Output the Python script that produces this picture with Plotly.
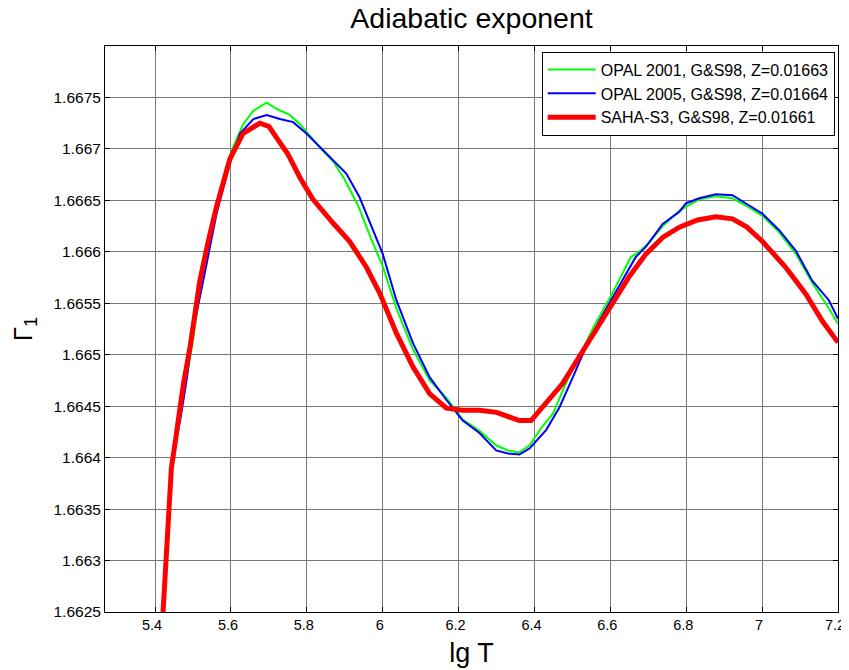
import plotly.graph_objects as go

# OPAL 2001
opal01_x = [5.421, 5.430, 5.438, 5.447, 5.458, 5.470, 5.485, 5.500, 5.520, 5.562, 5.590, 5.606, 5.632, 5.659,
            5.694, 5.720, 5.755, 5.782, 5.810, 5.840, 5.869, 5.900, 5.935, 5.970, 6.000, 6.036, 6.080, 6.124,
            6.168, 6.211, 6.255, 6.299, 6.330, 6.360, 6.387, 6.420, 6.449, 6.480, 6.520, 6.560, 6.600, 6.630,
            6.654, 6.676, 6.700, 6.738, 6.782, 6.834, 6.878, 6.922, 6.957, 7.001, 7.045, 7.089, 7.132, 7.176, 7.200]
opal01_y = [1.66252, 1.66310, 1.66360, 1.66400, 1.66428, 1.66455, 1.66482, 1.66515, 1.66565, 1.66642, 1.66685,
            1.66702, 1.66724, 1.66737, 1.66745, 1.66739, 1.66733, 1.66724, 1.66712, 1.66699, 1.66688, 1.66670,
            1.66645, 1.66612, 1.66586, 1.66545, 1.66505, 1.66475, 1.66458, 1.66437, 1.66426, 1.66412, 1.66407,
            1.66405, 1.66412, 1.66430, 1.66443, 1.66470, 1.66500, 1.66530, 1.66556, 1.66578, 1.66595, 1.66600,
            1.66608, 1.66625, 1.66640, 1.66651, 1.66654, 1.66652, 1.66645, 1.66635, 1.66619, 1.66598, 1.66570,
            1.66545, 1.66530]

# OPAL 2005
opal05_x = [5.420, 5.428, 5.435, 5.442, 5.453, 5.466, 5.483, 5.500, 5.527, 5.562, 5.597, 5.624, 5.659, 5.694,
            5.729, 5.764, 5.799, 5.834, 5.869, 5.904, 5.939, 5.974, 6.000, 6.036, 6.080, 6.124, 6.168, 6.211,
            6.255, 6.299, 6.330, 6.360, 6.387, 6.431, 6.466, 6.501, 6.536, 6.571, 6.606, 6.641, 6.667, 6.694,
            6.738, 6.782, 6.799, 6.834, 6.878, 6.922, 6.957, 7.001, 7.045, 7.089, 7.132, 7.176, 7.200]
opal05_y = [1.66255, 1.66300, 1.66346, 1.66385, 1.66414, 1.66436, 1.66475, 1.66524, 1.66572, 1.66637, 1.66686,
            1.66715, 1.66729, 1.66733, 1.66729, 1.66726, 1.66715, 1.66702, 1.66690, 1.66676, 1.66653, 1.66621,
            1.66598, 1.66553, 1.66511, 1.66478, 1.66456, 1.66436, 1.66424, 1.66407, 1.66404, 1.66403, 1.66409,
            1.66427, 1.66449, 1.66478, 1.66508, 1.66533, 1.66556, 1.66579, 1.66595, 1.66605, 1.66627, 1.66639,
            1.66647, 1.66652, 1.66656, 1.66655, 1.66647, 1.66637, 1.66621, 1.66601, 1.66572, 1.66553, 1.66535]

# SAHA-S3
saha_x = [5.421, 5.428, 5.436, 5.443, 5.455, 5.465, 5.474, 5.492, 5.518, 5.540, 5.562, 5.597, 5.632, 5.676,
          5.700, 5.720, 5.750, 5.782, 5.816, 5.869, 5.913, 5.957, 5.992, 6.036, 6.080, 6.124, 6.168, 6.210,
          6.255, 6.300, 6.330, 6.360, 6.391, 6.431, 6.474, 6.518, 6.562, 6.606, 6.650, 6.694, 6.738, 6.782,
          6.830, 6.878, 6.922, 6.960, 7.001, 7.062, 7.115, 7.160, 7.200]
saha_y = [1.66250, 1.66300, 1.66350, 1.66390, 1.66420, 1.66450, 1.66470, 1.66507, 1.66572, 1.66610, 1.66644,
          1.66690, 1.66715, 1.66725, 1.66722, 1.66711, 1.66695, 1.66672, 1.66651, 1.66628, 1.66610, 1.66585,
          1.66560, 1.66521, 1.66488, 1.66462, 1.66448, 1.66446, 1.66446, 1.66444, 1.66440, 1.66436, 1.66436,
          1.66453, 1.66472, 1.66498, 1.66524, 1.66550, 1.66576, 1.66598, 1.66614, 1.66624, 1.66631, 1.66634,
          1.66632, 1.66624, 1.66610, 1.66585, 1.66559, 1.66532, 1.66512]

x_ticks = [5.4, 5.6, 5.8, 6.0, 6.2, 6.4, 6.6, 6.8, 7.0, 7.2]
x_labels = ["5.4", "5.6", "5.8", "6", "6.2", "6.4", "6.6", "6.8", "7", "7.2"]
y_ticks = [1.6625, 1.663, 1.6635, 1.664, 1.6645, 1.665, 1.6655, 1.666, 1.6665, 1.667, 1.6675]
y_labels = ["1.6625", "1.663", "1.6635", "1.664", "1.6645", "1.665", "1.6655", "1.666", "1.6665", "1.667", "1.6675"]

FONT = "Liberation Sans, Arial, sans-serif"

# the page body adds an 8px margin, so the figure is sized/positioned to compensate
W, H = 841, 662

fig = go.Figure()
fig.add_trace(go.Scatter(x=opal01_x, y=opal01_y, mode="lines", name="OPAL 2001, G&S98, Z=0.01663",
                         line=dict(color="#00ff00", width=2)))
fig.add_trace(go.Scatter(x=opal05_x, y=opal05_y, mode="lines", name="OPAL 2005, G&S98, Z=0.01664",
                         line=dict(color="#0000ff", width=2)))
fig.add_trace(go.Scatter(x=saha_x, y=saha_y, mode="lines", name="SAHA-S3, G&S98, Z=0.01661",
                         line=dict(color="#ff0000", width=5)))

axis_common = dict(showline=True, linecolor="black", linewidth=1, mirror="ticks",
                   ticks="inside", ticklen=5, tickcolor="black", automargin=False,
                   ticklabeloverflow="allow",
                   showgrid=True, gridcolor="rgb(120,120,120)", gridwidth=1, zeroline=False)

fig.update_layout(
    width=W, height=H,
    margin=dict(l=97, r=11, t=38, b=58),
    paper_bgcolor="white", plot_bgcolor="white",
    title=dict(text="Adiabatic exponent", x=(97 + 830) / 2 / W, xanchor="center", xref="container",
               y=1, yref="container", yanchor="top", pad=dict(t=0, b=0),
               font=dict(family=FONT, size=28.5, color="black")),
    xaxis=dict(range=[5.268, 7.2], tickvals=x_ticks, ticktext=x_labels,
               tickfont=dict(family=FONT, size=14.5, color="black"), ticklabelshift=-3,
               title=dict(text="lg T", font=dict(family=FONT, size=27, color="black"), standoff=10),
               **axis_common),
    yaxis=dict(range=[1.6625, 1.668], tickvals=y_ticks, ticktext=y_labels,
               tickfont=dict(family=FONT, size=15.5, color="black"),
               title=dict(text="Γ<sub>1</sub>", font=dict(family=FONT, size=26, color="black"), standoff=19),
               **axis_common),
    legend=dict(x=0.9955, y=0.99, xanchor="right", yanchor="top", bgcolor="white",
                bordercolor="black", borderwidth=1, font=dict(family=FONT, size=16, color="black"),
                itemwidth=48),
    showlegend=True,
)

fig.write_html("out.html")
